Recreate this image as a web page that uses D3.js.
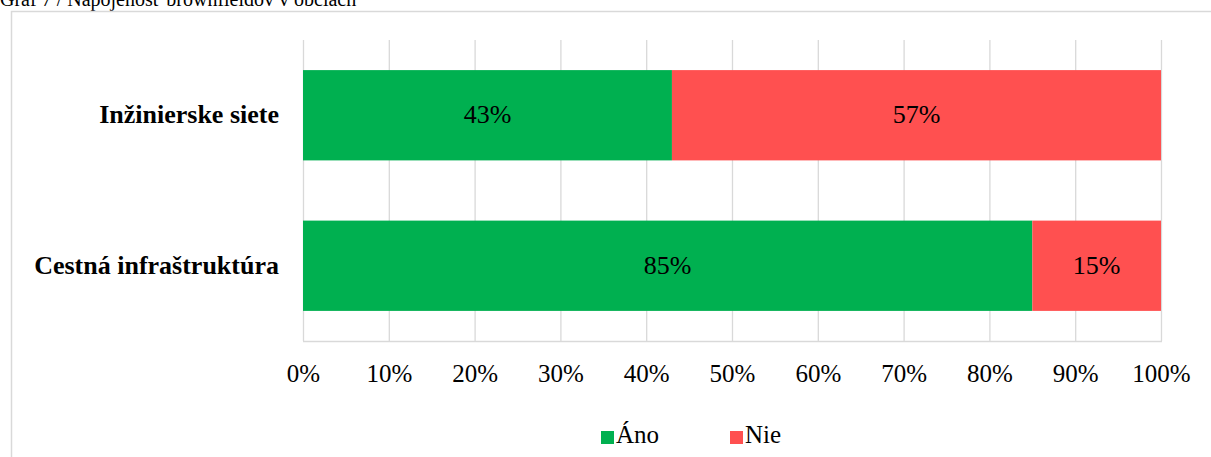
<!DOCTYPE html>
<html>
<head>
<meta charset="utf-8">
<script src="https://cdn.jsdelivr.net/npm/d3@7/dist/d3.min.js"></script>
<style>
  html, body { margin: 0; padding: 0; background: #fff; }
  svg { display: block; }
  text { font-family: "Liberation Serif", "Times New Roman", serif; fill: #000; }
</style>
</head>
<body>
<svg id="chart" width="1211" height="457"></svg>
<script>
// Connection of brownfields in municipalities
const title = "Graf 7 / Napojenosť brownfieldov v obciach";
const categories = ["Inžinierske siete", "Cestná infraštruktúra"];
const seriesNames = ["Áno", "Nie"];
const anoValues = [43, 85];
const nieValues = [57, 15];
const tickValues = [0, 10, 20, 30, 40, 50, 60, 70, 80, 90, 100];
const colors = ["#00B050", "#FF5050"];

const svg = d3.select("#chart");
const W = 1211, H = 457;
const margin = { left: 303, right: 50, top: 40, bottom: 116 };

// Title above the chart frame
svg.append("text")
  .attr("x", 0).attr("y", 6)
  .attr("font-size", 20)
  .text(title);

// Chart frame
svg.append("rect")
  .attr("x", 11.5).attr("y", 11.5)
  .attr("width", W + 10).attr("height", H + 10)
  .attr("fill", "none")
  .attr("stroke", "#d9d9d9")
  .attr("stroke-width", 1.5);

const x = d3.scaleLinear().domain([0, 100]).range([margin.left, W - margin.right]);
const y = d3.scaleBand().domain(categories).range([margin.top, H - margin.bottom])
  .paddingInner(0.4).paddingOuter(0.2);

// Vertical gridlines
svg.append("g").selectAll("line").data(tickValues).join("line")
  .attr("x1", d => x(d) + 0.5).attr("x2", d => x(d) + 0.5)
  .attr("y1", margin.top).attr("y2", H - margin.bottom)
  .attr("stroke", "#d9d9d9").attr("stroke-width", 1.3);

// Bottom axis line
svg.append("line")
  .attr("x1", x(0)).attr("x2", x(100) + 1)
  .attr("y1", H - margin.bottom + 0.5).attr("y2", H - margin.bottom + 0.5)
  .attr("stroke", "#d9d9d9").attr("stroke-width", 1.3);

// Stacked bars
const rows = categories.map((c, i) => ({ cat: c, Áno: anoValues[i], Nie: nieValues[i] }));
const stack = d3.stack().keys(seriesNames)(rows);

const layers = svg.append("g").selectAll("g").data(stack).join("g")
  .attr("fill", (d, i) => colors[i]);

layers.selectAll("rect").data(d => d).join("rect")
  .attr("x", d => x(d[0]))
  .attr("y", d => y(d.data.cat))
  .attr("width", d => x(d[1]) - x(d[0]))
  .attr("height", y.bandwidth());

// Value labels inside segments
layers.selectAll("text").data(d => d).join("text")
  .attr("x", d => (x(d[0]) + x(d[1])) / 2)
  .attr("y", d => y(d.data.cat) + y.bandwidth() / 2)
  .attr("dy", "0.3em")
  .attr("text-anchor", "middle")
  .attr("font-size", 26)
  .attr("fill", "#000")
  .text(d => (d[1] - d[0]) + "%");

// Category labels
svg.append("g").selectAll("text").data(categories).join("text")
  .attr("x", 279)
  .attr("y", d => y(d) + y.bandwidth() / 2)
  .attr("dy", "0.3em")
  .attr("text-anchor", "end")
  .attr("font-size", 26)
  .attr("font-weight", "bold")
  .text(d => d);

// X axis tick labels
const xAxis = d3.axisBottom(x).tickValues(tickValues).tickSize(0).tickPadding(0)
  .tickFormat(d => d + "%");
const gx = svg.append("g")
  .attr("transform", `translate(0, ${H - margin.bottom})`)
  .call(xAxis);
gx.select(".domain").remove();
gx.selectAll("text")
  .attr("font-family", "Liberation Serif, serif")
  .attr("font-size", 25)
  .attr("fill", "#000")
  .attr("y", 41)
  .attr("dy", 0);

// Legend
const legendX = [601, 730];
const legend = svg.append("g").selectAll("g").data(seriesNames).join("g")
  .attr("transform", (d, i) => `translate(${legendX[i]}, 437)`);
legend.append("rect")
  .attr("x", 0).attr("y", -6)
  .attr("width", 13).attr("height", 13)
  .attr("fill", (d, i) => colors[i]);
legend.append("text")
  .attr("x", 15).attr("y", 6)
  .attr("font-size", 25)
  .text(d => d);
</script>
</body>
</html>
